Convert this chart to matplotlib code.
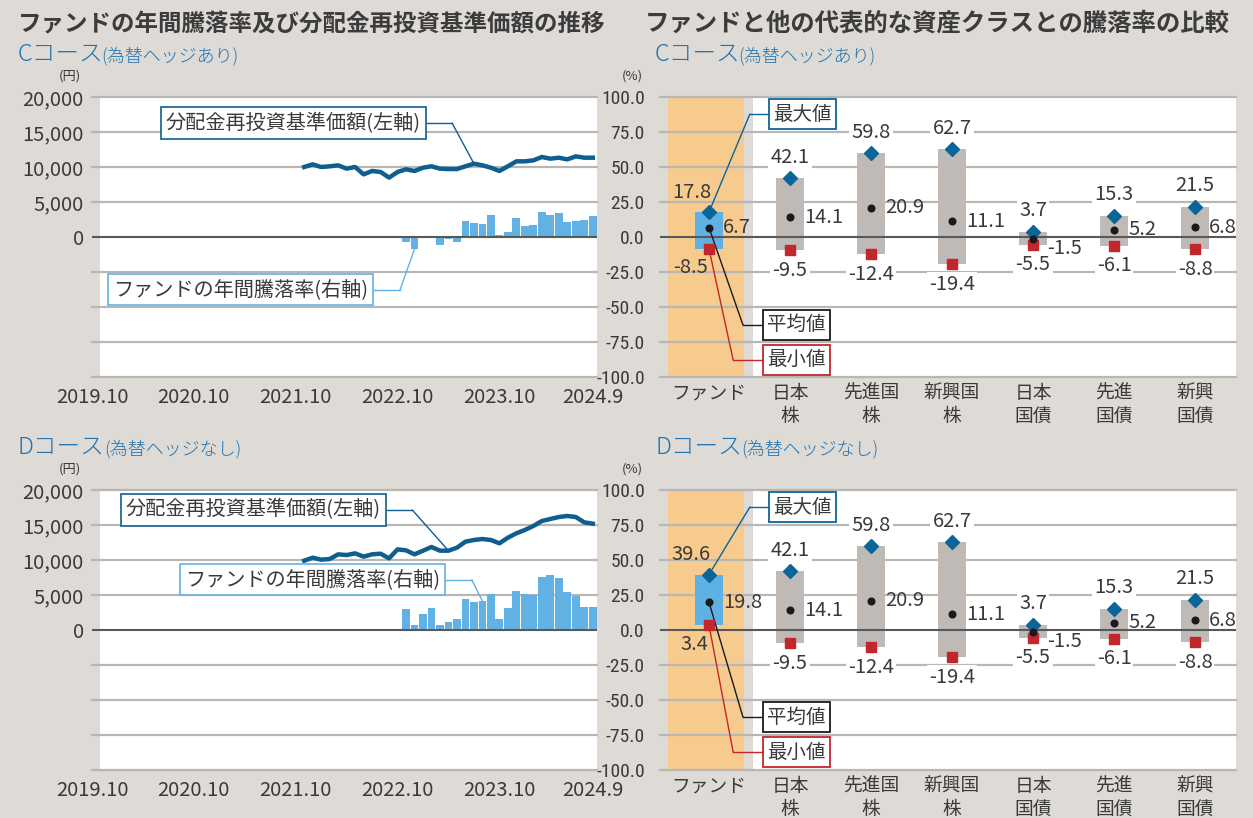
import matplotlib
matplotlib.use("Agg")
import matplotlib.pyplot as plt
from matplotlib import font_manager as fm
from matplotlib.patches import ConnectionPatch, Rectangle
import matplotlib.ticker as mticker

# ---------------- data ----------------
x_tick_months = ["2019.10", "2020.10", "2021.10", "2022.10", "2023.10", "2024.9"]
nav_start = "2021.11"
ret_start = "2022.11"

c_nav = [10000, 10380, 10000, 10100, 10240, 9760, 10000, 8950, 9430, 9290,
         8480, 9290, 9670, 9430, 9900, 10100, 9760, 9710, 9710, 10100,
         10480, 10240, 9900, 9430, 10100, 10810, 10810, 10950, 11430, 11190,
         11330, 11090, 11520, 11330, 11330]
c_ret = [-3.6, -8.5, -0.3, -0.2, -6.0, -1.7, -3.6, 11.2, 9.8, 9.0, 15.5, 1.2,
         3.3, 13.3, 7.6, 8.3, 17.8, 15.5, 17.5, 10.5, 11.2, 11.9, 14.8]

d_nav = [9900, 10330, 10050, 10140, 10810, 10710, 10950, 10480, 10810, 10900,
         10240, 11520, 11380, 10810, 11330, 11860, 11330, 11330, 11760, 12620,
         12860, 13000, 12860, 12380, 13190, 13810, 14290, 14860, 15570, 15860,
         16140, 16290, 16140, 15380, 15190]
d_ret = [14.8, 3.4, 11.7, 16.0, 3.6, 6.0, 7.6, 21.9, 19.8, 20.7, 26.0, 7.6,
         15.5, 27.6, 26.0, 25.2, 38.1, 39.6, 37.4, 27.4, 24.5, 16.7, 16.7]

categories = ["ファンド", "日本\n株", "先進国\n株", "新興国\n株", "日本\n国債", "先進\n国債", "新興\n国債"]
c_max = [17.8, 42.1, 59.8, 62.7, 3.7, 15.3, 21.5]
c_mean = [6.7, 14.1, 20.9, 11.1, -1.5, 5.2, 6.8]
c_min = [-8.5, -9.5, -12.4, -19.4, -5.5, -6.1, -8.8]
d_max = [39.6, 42.1, 59.8, 62.7, 3.7, 15.3, 21.5]
d_mean = [19.8, 14.1, 20.9, 11.1, -1.5, 5.2, 6.8]
d_min = [3.4, -9.5, -12.4, -19.4, -5.5, -6.1, -8.8]

yen_ticks = [0, 5000, 10000, 15000, 20000]
pct_ticks = [-100, -75, -50, -25, 0, 25, 50, 75, 100]

# ---------------- style ----------------
W, H = 1253, 818
BG = "#dedad6"
GRID = "#b9b7b4"
ZERO = "#585858"
TXT = "#3a3a3a"
NAVC = "#0e5f8e"
BARC = "#62b1e4"
ORANGE = "#f6cb8d"
FUNDBOX = "#5fb1e4"
GRAYBOX = "#bfbab5"
DIAM = "#0c6598"
REDC = "#c1272d"
BLUE_T = "#1f74b1"

JP = "Noto Sans CJK JP"
plt.rcParams["font.family"] = [JP, "DejaVu Sans"]

# look for a condensed font for the narrow percent tick labels
narrow_prop = fm.FontProperties(family=JP)
NARROW_SIZE = 12.5
pref = ["Liberation Sans Narrow", "Roboto Condensed", "Open Sans Condensed", "Noto Sans Condensed"]
cands = []
for f in fm.fontManager.ttflist:
    st = str(f.stretch).lower()
    isnarrow = ("narrow" in f.name.lower() or st in ("condensed", "extra-condensed", "ultra-condensed"))
    if isnarrow and f.style == "normal" and f.weight in (400, "normal", "regular") \
            and not f.name.startswith("DejaVu"):
        rank = next((i for i, p in enumerate(pref) if f.name.startswith(p)), 99)
        cands.append((rank, f.fname))
if cands:
    cands.sort()
    narrow_prop = fm.FontProperties(fname=cands[0][1])
    NARROW_SIZE = 14


def mi(s):
    y, m = s.split(".")
    return (int(y) - 2019) * 12 + int(m) - 10


fig = plt.figure(figsize=(W / 100, H / 100), dpi=100)
fig.patch.set_facecolor(BG)


def fx(px):
    return px / W


def fy(py):
    return 1 - py / H


def left_chart(top, nav, ret, nav_box, ret_box):
    ax = fig.add_axes([fx(92), fy(top + 280), fx(505), 280 / H])
    axr = ax.twinx()
    ax.set_zorder(3)
    axr.set_zorder(2)
    ax.patch.set_visible(False)
    axr.patch.set_visible(True)
    axr.patch.set_facecolor(BG)
    x_end = 59.5
    ax.set_xlim(0, x_end)
    ax.set_ylim(-20000, 20000)
    axr.set_ylim(-100, 100)
    axr.add_patch(Rectangle((8 / 505, 0), 1 - 8 / 505, 1, transform=axr.transAxes,
                            facecolor="white", edgecolor="none", zorder=0))
    for v in pct_ticks:
        if v == 0:
            continue
        axr.axhline(v, color=GRID, lw=1.6, zorder=1, clip_on=False)
    xs = list(range(mi(ret_start), mi(ret_start) + len(ret)))
    axr.bar(xs, ret, width=0.92, color=BARC, zorder=2)
    axr.axhline(0, color=ZERO, lw=1.5, zorder=3)
    xn = list(range(mi(nav_start), mi(nav_start) + len(nav)))
    ax.plot(xn, nav, color=NAVC, lw=3.2, solid_joinstyle="round", zorder=4)
    for a in (ax, axr):
        for s in a.spines.values():
            s.set_visible(False)
    axr.set_yticks([])
    ax.set_yticks(yen_ticks)
    ax.yaxis.set_major_formatter(mticker.FuncFormatter(lambda v, p: f"{int(v):,}"))
    ax.tick_params(axis="y", length=0, pad=6, labelsize=14.5, labelcolor=TXT)
    ax.set_xticks([mi(s) for s in x_tick_months])
    ax.set_xticklabels(x_tick_months)
    ax.tick_params(axis="x", length=0, pad=7, labelsize=14.5, labelcolor=TXT)
    # callouts
    (bx, by, kx, tgt_i) = nav_box
    ax.text(bx - 6 / 505, by, "分配金再投資基準価額(左軸)", transform=ax.transAxes,
            ha="right", va="center", fontsize=14.5, color=TXT, zorder=10,
            bbox=dict(boxstyle="square,pad=0.25", fc="white", ec=NAVC, lw=1.2))
    ax.plot([bx, kx], [by, by], transform=ax.transAxes, color=NAVC, lw=1, zorder=5, clip_on=False)
    cp = ConnectionPatch(xyA=(kx, by), coordsA=ax.transAxes,
                         xyB=(xn[tgt_i], nav[tgt_i]), coordsB=ax.transData,
                         color=NAVC, lw=1, zorder=5)
    ax.add_artist(cp)
    (bx, by, kx, tgt_i) = ret_box
    ax.text(bx - 6 / 505, by, "ファンドの年間騰落率(右軸)", transform=ax.transAxes,
            ha="right", va="center", fontsize=14.5, color=TXT, zorder=10,
            bbox=dict(boxstyle="square,pad=0.25", fc="white", ec=BARC, lw=1.2))
    ax.plot([bx, kx], [by, by], transform=ax.transAxes, color=BARC, lw=1, zorder=5, clip_on=False)
    cp = ConnectionPatch(xyA=(kx, by), coordsA=ax.transAxes,
                         xyB=(xs[tgt_i], ret[tgt_i]), coordsB=axr.transData,
                         color=BARC, lw=1, zorder=5)
    ax.add_artist(cp)
    fig.text(fx(70), fy(top - 21), "(円)", fontsize=9.5, color=TXT, ha="center", va="center")
    return ax


def right_chart(top, vmax, vmean, vmin, legend_y):
    ax = fig.add_axes([fx(660), fy(top + 280), fx(576), 280 / H])
    ax.set_facecolor(BG)
    x0, x1 = -0.605, 6.506
    ax.set_xlim(x0, x1)
    ax.set_ylim(-100, 100)
    ax.axvspan(-0.506, 0.432, color=ORANGE, lw=0, zorder=0)
    ax.axvspan(0.543, x1, color="white", lw=0, zorder=0)
    for v in pct_ticks:
        if v == 0:
            continue
        ax.axhline(v, color=GRID, lw=1.6, zorder=1, clip_on=False)
    xs = list(range(len(categories)))
    heights = [a - b for a, b in zip(vmax, vmin)]
    ax.bar(xs, heights, bottom=vmin, width=0.35,
           color=[FUNDBOX] + [GRAYBOX] * (len(xs) - 1), zorder=2)
    ax.axhline(0, color=ZERO, lw=1.5, zorder=3)
    ax.plot(xs, vmax, ls="none", marker="D", ms=7.5, color=DIAM, zorder=6)
    ax.plot(xs, vmin, ls="none", marker="s", ms=7, color=REDC, zorder=6)
    ax.plot(xs, vmean, ls="none", marker="o", ms=4.8, color="#1a1a1a", zorder=7)
    for i, x in enumerate(xs):
        if i == 0:
            ax.annotate(f"{vmax[i]:.1f}", (x, vmax[i]), xytext=(2, 20), textcoords="offset pixels",
                        ha="right", va="center", fontsize=14.5, color=TXT, zorder=8)
            ax.annotate(f"{vmin[i]:.1f}", (x, vmin[i]), xytext=(-1, -19), textcoords="offset pixels",
                        ha="right", va="center", fontsize=14.5, color=TXT, zorder=8)
            ax.annotate(f"{vmean[i]:.1f}", (x, vmean[i]), xytext=(14, 0), textcoords="offset pixels",
                        ha="left", va="center", fontsize=14.5, color=TXT, zorder=8)
        else:
            bb = dict(boxstyle="square,pad=0.1", fc="white", ec="none")
            ax.annotate(f"{vmax[i]:.1f}", (x, vmax[i]), xytext=(0, 21), textcoords="offset pixels",
                        ha="center", va="center", fontsize=14.5, color=TXT, zorder=8, bbox=bb)
            ax.annotate(f"{vmin[i]:.1f}", (x, vmin[i]), xytext=(0, -20), textcoords="offset pixels",
                        ha="center", va="center", fontsize=14.5, color=TXT, zorder=8, bbox=bb)
            dy = -9 if vmean[i] < 0 else 0
            ax.annotate(f"{vmean[i]:.1f}", (x, vmean[i]), xytext=(14, dy), textcoords="offset pixels",
                        ha="left", va="center", fontsize=14.5, color=TXT, zorder=8)
    for s in ax.spines.values():
        s.set_visible(False)
    ax.set_yticks(pct_ticks)
    ax.set_yticklabels([f"{v:.1f}" for v in pct_ticks], fontproperties=narrow_prop)
    ax.tick_params(axis="y", length=0, pad=11, labelcolor=TXT)
    for lab in ax.get_yticklabels():
        lab.set_fontsize(NARROW_SIZE)
    ax.set_xticks(xs)
    ax.set_xticklabels(categories, linespacing=1.15)
    ax.tick_params(axis="x", length=0, pad=4, labelsize=13.5, labelcolor=TXT)
    # legend callouts
    items = [("最大値", DIAM, vmax[0]), ("平均値", "#1a1a1a", vmean[0]), ("最小値", REDC, vmin[0])]
    for (lab, col, val), (bx, by, kx) in zip(items, legend_y):
        ax.text(bx + 5 / 576, by, lab, transform=ax.transAxes, ha="left", va="center",
                fontsize=14, color=TXT, zorder=10,
                bbox=dict(boxstyle="square,pad=0.22", fc="white", ec=col, lw=1.3))
        ax.plot([bx, kx], [by, by], transform=ax.transAxes, color=col, lw=1, zorder=5, clip_on=False)
        cp = ConnectionPatch(xyA=(kx, by), coordsA=ax.transAxes, xyB=(0, val),
                             coordsB=ax.transData, color=col, lw=1, zorder=5)
        ax.add_artist(cp)
    fig.text(fx(632), fy(top - 21), "(%)", fontsize=9.5, color=TXT, ha="center", va="center")
    return ax


# top (C course)
left_chart(97, c_nav, c_ret,
           nav_box=(0.663, 0.907, 0.713, mi("2023.7") - mi(nav_start)),
           ret_box=(0.558, 0.311, 0.610, 1))
right_chart(97, c_max, c_mean, c_min,
            legend_y=[(0.1875, 0.939, 0.156), (0.177, 0.186, 0.144), (0.177, 0.061, 0.127)])
# bottom (D course)
left_chart(490, d_nav, d_ret,
           nav_box=(0.584, 0.929, 0.634, mi("2023.4") - mi(nav_start)),
           ret_box=(0.701, 0.679, 0.752, 9))
right_chart(490, d_max, d_mean, d_min,
            legend_y=[(0.1875, 0.939, 0.156), (0.177, 0.189, 0.144), (0.177, 0.064, 0.127)])

# titles
fig.text(fx(18), fy(24), "ファンドの年間騰落率及び分配金再投資基準価額の推移", fontsize=16.9,
         weight="bold", color="#3c3c3c", ha="left", va="center")
fig.text(fx(645), fy(24), "ファンドと他の代表的な資産クラスとの騰落率の比較", fontsize=17.6,
         weight="bold", color="#3c3c3c", ha="left", va="center")
for (x0, x1, y, a, b) in [(18, 101, 61, "Cコース", "(為替ヘッジあり)"),
                          (655, 738, 61, "Cコース", "(為替ヘッジあり)"),
                          (18, 104, 454, "Dコース", "(為替ヘッジなし)"),
                          (655, 741, 454, "Dコース", "(為替ヘッジなし)")]:
    fig.text(fx(x0), fy(y), a, fontsize=17, color=BLUE_T, ha="left", va="baseline", weight="light")
    fig.text(fx(x1), fy(y), b, fontsize=13, color=BLUE_T, ha="left", va="baseline", weight="light")

fig.savefig("out.png", dpi=100, facecolor=BG)
